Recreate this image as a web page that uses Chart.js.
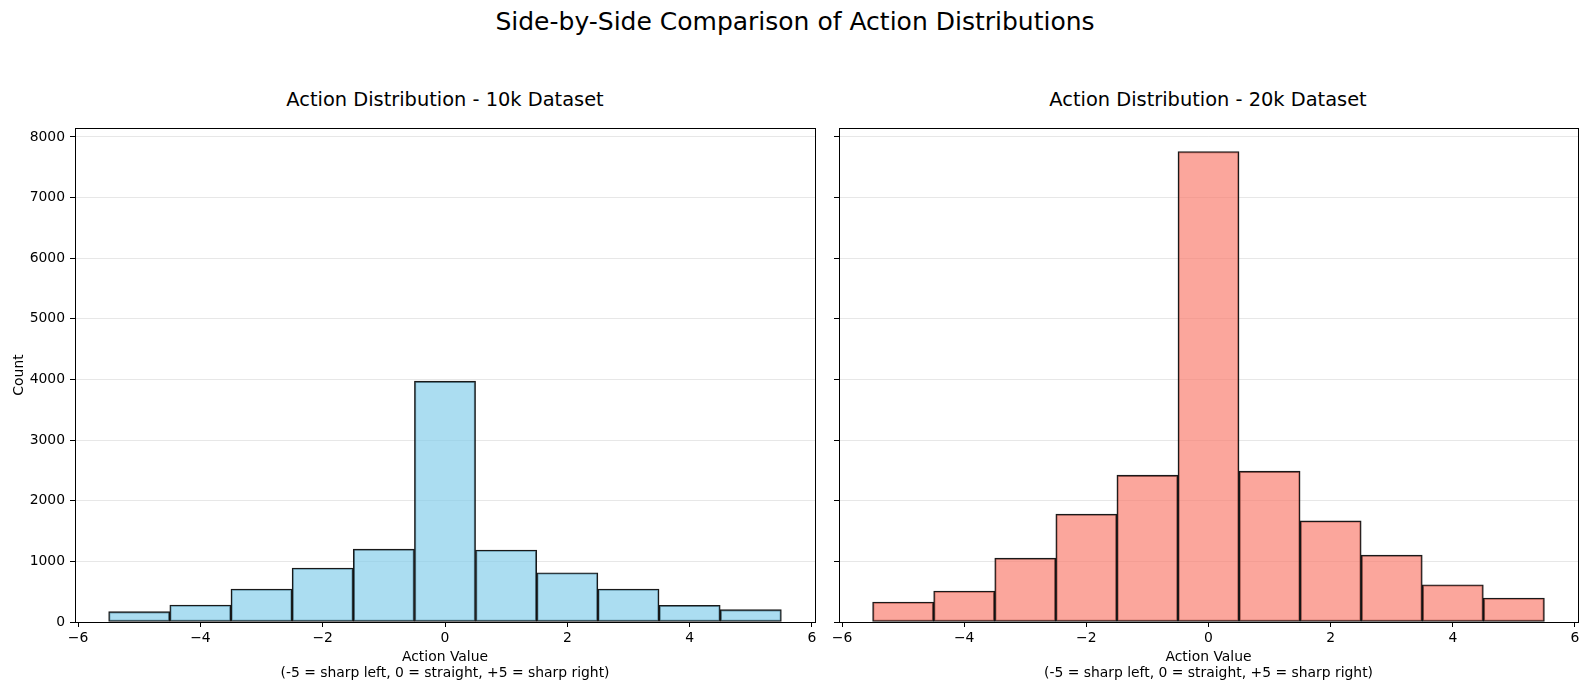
<!DOCTYPE html>
<html>
<head>
<meta charset="utf-8">
<title>Action Distributions</title>
<script src="https://cdn.jsdelivr.net/npm/chart.js@4.4.1/dist/chart.umd.min.js"></script>
<style>
	body { margin: 0; background: #fff; font-family: "DejaVu Sans", sans-serif; }
	#page { position: relative; width: 1589px; height: 691px; overflow: hidden; }
	.title { position: absolute; white-space: nowrap; transform: translate(-50%, -50%); color: #000; line-height: 1; }
	canvas { position: absolute; top: 0; }
</style>
</head>
<body>
<div id="page">
	<div class="title" style="left:795px; top:21px; font-size:25px;">Side-by-Side Comparison of Action Distributions</div>
	<div class="title" style="left:445px; top:100px; font-size:19.4px;">Action Distribution - 10k Dataset</div>
	<div class="title" style="left:1208px; top:100px; font-size:19.4px;">Action Distribution - 20k Dataset</div>
	<canvas id="left" width="827" height="691" style="left:0"></canvas>
	<canvas id="right" width="762" height="691" style="left:827px"></canvas>
</div>
<script>
// histogram bins, one per integer action
var actions = [-5, -4, -3, -2, -1, 0, 1, 2, 3, 4, 5];
var counts10k = [170, 280, 544, 890, 1203, 3972, 1187, 813, 544, 277, 203];
var counts20k = [330, 511, 1054, 1779, 2422, 7760, 2488, 1669, 1104, 615, 395];
var xTicks = [-6, -4, -2, 0, 2, 4, 6];
var yTicks = [0, 1000, 2000, 3000, 4000, 5000, 6000, 7000, 8000];
var xLimits = [-6.05, 6.05];
var yLimits = [0, 8148];

var font = {family: '"DejaVu Sans", sans-serif', size: 13.9};

// matplotlib-style box round the axes
var framePlugin = {
	id: 'frame',
	afterDraw: function(chart) {
		var a = chart.chartArea, ctx = chart.ctx;
		ctx.save();
		ctx.strokeStyle = '#000';
		ctx.lineWidth = 1;
		ctx.strokeRect(Math.round(a.left) + 0.5, Math.round(a.top) + 0.5,
			Math.round(a.right - a.left), Math.round(a.bottom - a.top));
		ctx.restore();
	}
};

function minus(v) {
	return String(v).replace('-', '\u2212');
}

function makeChart(id, counts, fill, showY, yWidth, padRight) {
	return new Chart(document.getElementById(id), {
		type: 'bar',
		data: {
			datasets: [{
				data: actions.map(function(a, i) { return {x: a, y: counts[i]}; }),
				backgroundColor: fill,
				borderColor: 'rgba(0,0,0,0.9)',
				borderWidth: 1.4,
				borderSkipped: false,
				barPercentage: 1,
				categoryPercentage: 1
			}]
		},
		options: {
			responsive: false,
			animation: false,
			layout: {padding: {top: 128, right: padRight, left: 0, bottom: 0}},
			plugins: {legend: {display: false}, tooltip: {enabled: false}},
			scales: {
				x: {
					type: 'linear',
					min: xLimits[0],
					max: xLimits[1],
					offset: false,
					afterBuildTicks: function(s) { s.ticks = xTicks.map(function(v) { return {value: v}; }); },
					afterFit: function(s) { s.height = 69; },
					grid: {display: true, drawOnChartArea: false, drawTicks: true, tickLength: 5, tickColor: '#000', offset: false},
					border: {display: false},
					ticks: {color: '#000', font: font, padding: 3, maxRotation: 0, callback: minus},
					title: {
						display: true,
						text: ['Action Value', '(-5 = sharp left, 0 = straight, +5 = sharp right)'],
						color: '#000',
						font: {family: font.family, size: 13.9, lineHeight: 1.15},
						padding: {top: 0, bottom: 10}
					}
				},
				y: {
					min: yLimits[0],
					max: yLimits[1],
					afterBuildTicks: function(s) { s.ticks = yTicks.map(function(v) { return {value: v}; }); },
					afterFit: function(s) { s.width = yWidth; },
					grid: {color: 'rgba(176,176,176,0.3)', tickColor: '#000', tickLength: 5, lineWidth: 1},
					border: {display: false},
					ticks: {
						color: '#000', font: font, padding: 5,
						callback: function(v) { return showY ? String(v) : ''; }
					},
					title: {
						display: showY,
						text: 'Count',
						color: '#000',
						font: {family: font.family, size: 13.9},
						padding: {top: 11, bottom: 0}
					}
				}
			}
		},
		plugins: [framePlugin]
	});
}

makeChart('left', counts10k, 'rgba(135,206,235,0.7)', true, 75, 12);
makeChart('right', counts20k, 'rgba(250,128,114,0.7)', false, 12, 11);
</script>
</body>
</html>
